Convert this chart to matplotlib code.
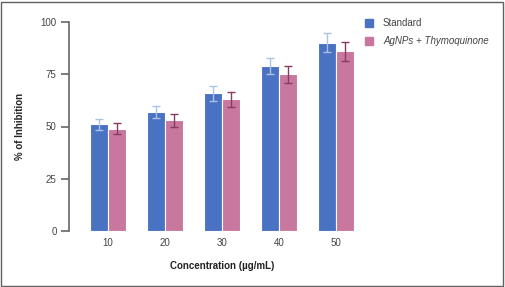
import numpy as np
import matplotlib.pyplot as plt
from matplotlib.patches import Rectangle

# Data
concentrations = ['10', '20', '30', '40', '50']
standard = [51, 57, 66, 79, 90]
standard_err = [2.6, 3.0, 3.6, 4.0, 4.5]
agnps = [49, 53, 63, 75, 86]
agnps_err = [2.7, 3.0, 3.5, 4.0, 4.5]

blue = '#4a72c2'
blue_err = '#a9c2e6'
pink = '#c8779f'
pink_err = '#8a3a60'

plt.rcParams['font.family'] = ['Liberation Sans', 'DejaVu Sans']

fig = plt.figure(figsize=(5.05, 2.87), dpi=100)
ax = fig.add_axes([69 / 505, 56 / 287, 291 / 505, 209 / 287])

x = np.arange(len(concentrations))
w = 0.31
ax.bar(x - w / 2, standard, w, color=blue, edgecolor='white', linewidth=0.8,
       yerr=standard_err, error_kw=dict(ecolor=blue_err, capsize=3.2, elinewidth=1, capthick=1))
ax.bar(x + w / 2, agnps, w, color=pink, edgecolor='white', linewidth=0.8,
       yerr=agnps_err, error_kw=dict(ecolor=pink_err, capsize=3.2, elinewidth=1, capthick=1))

ax.set_xlim(-0.684, 4.42)
ax.set_ylim(0, 100)
ax.set_yticks([0, 25, 50, 75, 100])
ax.set_xticks(x)
ax.set_xticklabels(concentrations)

for s in ['top', 'right', 'bottom']:
    ax.spines[s].set_visible(False)
ax.spines['left'].set_color('#666666')
ax.spines['left'].set_linewidth(1.2)
ax.tick_params(axis='y', length=6, width=1.2, color='#666666', labelsize=7, labelcolor='#444444', pad=3)
ax.tick_params(axis='x', length=0, labelsize=7, labelcolor='#444444', pad=5)

ax.set_ylabel('% of Inhibition', fontsize=7, fontweight='bold', color='#222222')
ax.set_xlabel('Concentration (µg/mL)', fontsize=7, fontweight='bold', color='#222222')
ax.yaxis.set_label_coords(-0.168, 0.5)
ax.xaxis.set_label_coords(0.526, -0.167)
ax.xaxis.label.set_va('center')
ax.yaxis.label.set_va('center')

# Legend
fig.patches.append(Rectangle((365 / 505, 1 - 27 / 287), 8 / 505, 8 / 287,
                             transform=fig.transFigure, color=blue))
fig.patches.append(Rectangle((365 / 505, 1 - 45 / 287), 8 / 505, 8 / 287,
                             transform=fig.transFigure, color=pink))
fig.text(383 / 505, 1 - 23 / 287, 'Standard', fontsize=7, color='#444444', va='center')
fig.text(383 / 505, 1 - 41 / 287, 'AgNPs + Thymoquinone', fontsize=7, color='#444444',
         va='center', style='italic')

# Outer frame
fig.patches.append(Rectangle((0.002, 0.004), 0.994, 0.99, transform=fig.transFigure,
                             fill=False, edgecolor='#606060', linewidth=1.0))

fig.savefig('out.png', dpi=100)
